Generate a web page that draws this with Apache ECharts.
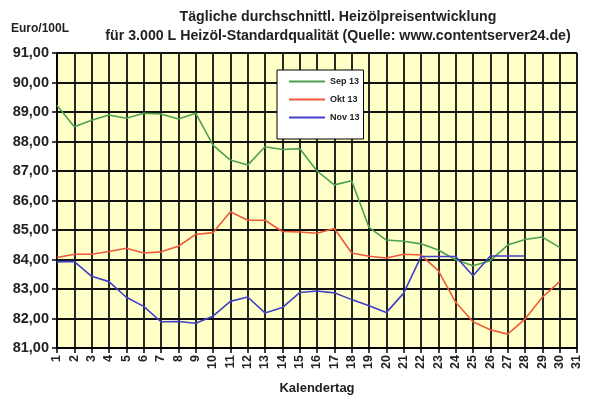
<!DOCTYPE html>
<html lang="de">
<head>
    <meta charset="utf-8">
    <title>Heizölpreisentwicklung</title>
    <script src="https://cdn.jsdelivr.net/npm/echarts@6/dist/echarts.min.js"></script>
    <style>
        html, body { margin: 0; padding: 0; background: #fff; }
        #main { width: 591px; height: 400px; }
    </style>
</head>
<body>
<div id="main"></div>
<script type="text/javascript">
    // Kalendertage und Preise (Euro/100L)
    var days = [];
    for (var d = 1; d <= 31; d++) { days.push(String(d)); }

    var sep13 = [89.22, 88.50, 88.72, 88.90, 88.79, 88.96, 88.93, 88.76, 88.96, 87.88,
        87.37, 87.20, 87.82, 87.73, 87.76, 87.00, 86.53, 86.67, 85.09, 84.66,
        84.62, 84.53, 84.32, 83.99, 83.79, 83.96, 84.49, 84.68, 84.76, 84.41];
    var okt13 = [84.07, 84.18, 84.18, 84.27, 84.38, 84.22, 84.26, 84.45, 84.85, 84.91,
        85.62, 85.33, 85.33, 84.95, 84.93, 84.89, 85.05, 84.22, 84.11, 84.05,
        84.18, 84.15, 83.62, 82.55, 81.89, 81.62, 81.47, 81.98, 82.72, 83.25];
    var nov13 = [83.92, 83.93, 83.43, 83.25, 82.72, 82.41, 81.89, 81.90, 81.84, 82.08,
        82.58, 82.73, 82.19, 82.37, 82.88, 82.93, 82.87, 82.64, 82.43, 82.20,
        82.86, 84.10, 84.10, 84.10, 83.45, 84.12, 84.12, 84.12];

    var font = 'Liberation Sans';
    var myChart = echarts.init(document.getElementById('main'));
    var option = {
        animation: false,
        backgroundColor: '#ffffff',
        title: [{
            text: 'Tägliche durchschnittl. Heizölpreisentwicklung\nfür 3.000 L Heizöl-Standardqualität (Quelle: www.contentserver24.de)',
            left: 333,
            top: 3,
            textAlign: 'center',
            textStyle: {
                fontFamily: font,
                fontSize: 14.2,
                fontWeight: 'bold',
                color: '#222',
                lineHeight: 19
            }
        }, {
            text: 'Euro/100L',
            left: 6,
            top: 18,
            textStyle: {
                fontFamily: font,
                fontSize: 12,
                fontWeight: 'bold',
                color: '#222'
            }
        }],
        legend: {
            orient: 'vertical',
            left: 277,
            top: 70,
            padding: [7, 4, 17, 12],
            itemGap: 9,
            itemWidth: 36,
            itemHeight: 2,
            icon: 'rect',
            backgroundColor: '#ffffff',
            borderColor: '#000',
            borderWidth: 1,
            textStyle: {
                fontFamily: font,
                fontSize: 9,
                fontWeight: 'bold',
                color: '#222'
            },
            data: ['Sep 13', 'Okt 13', 'Nov 13']
        },
        grid: {
            left: 57,
            right: 14,
            top: 53,
            bottom: 52,
            show: true,
            backgroundColor: '#ffffc8',
            borderColor: '#000',
            borderWidth: 1
        },
        xAxis: {
            type: 'category',
            data: days,
            boundaryGap: false,
            name: 'Kalendertag',
            nameLocation: 'middle',
            nameGap: 34,
            nameTextStyle: {
                fontFamily: font,
                fontSize: 13,
                fontWeight: 'bold',
                color: '#222'
            },
            axisLine: { lineStyle: { color: '#000', width: 1.5 } },
            axisTick: { show: true, length: 5, lineStyle: { color: '#000', width: 1.5 } },
            axisLabel: {
                rotate: 90,
                interval: 0,
                margin: 7,
                fontFamily: font,
                fontSize: 12.5,
                fontWeight: 'bold',
                color: '#222'
            },
            splitLine: { show: true, interval: 0, lineStyle: { color: '#111', width: 1.8 } }
        },
        yAxis: {
            type: 'value',
            min: 81,
            max: 91,
            interval: 1,
            axisLine: { show: true, lineStyle: { color: '#000', width: 1.5 } },
            axisTick: { show: true, length: 5, lineStyle: { color: '#000', width: 1.5 } },
            axisLabel: {
                margin: 8,
                fontFamily: font,
                fontSize: 14.5,
                fontWeight: 'bold',
                color: '#222',
                formatter: function (v) { return v.toFixed(2).replace('.', ','); }
            },
            splitLine: { show: true, lineStyle: { color: '#111', width: 1.8 } }
        },
        series: [
            {
                name: 'Sep 13',
                type: 'line',
                data: sep13,
                showSymbol: false,
                color: '#4ca24c',
                lineStyle: { width: 1.6 }
            },
            {
                name: 'Okt 13',
                type: 'line',
                data: okt13,
                showSymbol: false,
                color: '#ee5a3a',
                lineStyle: { width: 1.6 }
            },
            {
                name: 'Nov 13',
                type: 'line',
                data: nov13,
                showSymbol: false,
                color: '#4040c8',
                lineStyle: { width: 1.6 }
            }
        ]
    };

    myChart.setOption(option);
</script>
</body>
</html>
